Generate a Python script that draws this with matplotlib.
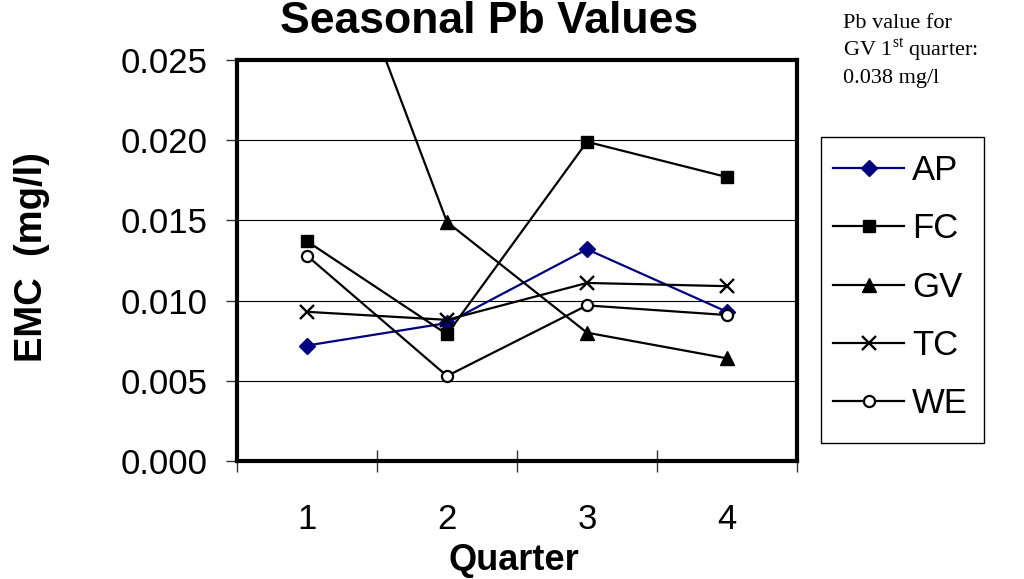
import matplotlib
matplotlib.use("Agg")
import matplotlib.pyplot as plt
from matplotlib.patches import Rectangle

plt.rcParams['font.family'] = ['Liberation Sans', 'DejaVu Sans']
plt.rcParams['mathtext.fontset'] = 'custom'
plt.rcParams['mathtext.rm'] = 'Liberation Serif'

quarters = [1, 2, 3, 4]
quarter_labels = ['1', '2', '3', '4']
ap = [0.0072, 0.0086, 0.0132, 0.0093]
fc = [0.0137, 0.0079, 0.0199, 0.0177]
gv = [0.038, 0.0149, 0.0080, 0.0064]
tc = [0.0093, 0.0088, 0.0111, 0.0109]
we = [0.0128, 0.0053, 0.0097, 0.0091]
y_ticks = [0.000, 0.005, 0.010, 0.015, 0.020, 0.025]

W, H = 1024, 579
fig = plt.figure(figsize=(W / 100, H / 100), dpi=100)

def fx(px):
    return px / W

def fy(py):
    return 1 - py / H

ax = fig.add_axes([fx(237), fy(461), fx(797) - fx(237), fy(60) - fy(461)])

series = [
    ('AP', ap, dict(color='#000080', marker='D', markersize=8, mfc='#000080', mec='#000080')),
    ('FC', fc, dict(color='black', marker='s', markersize=8.5, mfc='black', mec='black')),
    ('GV', gv, dict(color='black', marker='^', markersize=9.5, mfc='black', mec='black')),
    ('TC', tc, dict(color='black', marker='x', markersize=9.5, mew=1.7)),
    ('WE', we, dict(color='black', marker='o', markersize=8, mfc='white', mec='black', mew=1.6)),
]
for name, vals, style in series:
    ax.plot(quarters, vals, label=name, lw=1.6, zorder=3, **style)

ax.set_xlim(0.5, 4.5)
ax.set_ylim(0, 0.025)
ax.set_yticks(y_ticks)
ax.set_yticklabels([f'{v:.3f}' for v in y_ticks], fontsize=25)
ax.yaxis.grid(True, color='black', lw=0.8)
ax.set_axisbelow(True)

# category boundaries carry the tick marks, labels sit at the centres
ax.set_xticks([0.5, 1.5, 2.5, 3.5, 4.5])
ax.set_xticklabels([])
ax.set_xticks(quarters, minor=True)
ax.set_xticklabels(quarter_labels, minor=True, fontsize=25)
ax.tick_params(axis='x', which='major', direction='inout', length=16, width=1, color='#333333')
ax.tick_params(axis='x', which='minor', length=0, pad=30)
ax.tick_params(axis='y', which='major', direction='out', length=8, width=1, color='#333333', pad=13)

for sp in ax.spines.values():
    sp.set_linewidth(3)
    sp.set_color('black')
    sp.set_zorder(5)

# legend entries without their own frame; the box is drawn separately
leg = ax.legend(loc='upper left', bbox_to_anchor=(fx(833), fy(154)),
                bbox_transform=fig.transFigure, fontsize=25, frameon=False,
                handlelength=2.05, handletextpad=0.23, labelspacing=0.73,
                borderpad=0, borderaxespad=0)
fig.patches.append(Rectangle((fx(821), fy(443)), fx(984) - fx(821), fy(137) - fy(443),
                             transform=fig.transFigure, fill=False,
                             edgecolor='black', lw=1.0))

fig.text(fx(489.5), fy(33), 'Seasonal Pb Values', fontsize=32, fontweight='bold',
         ha='center', va='baseline')
fig.text(fx(32), fy(257), 'EMC  (mg/l)', fontsize=27.5, fontweight='bold',
         rotation=90, ha='center', va='center')
fig.text(fx(514), fy(560), 'Quarter', fontsize=26, fontweight='bold',
         ha='center', va='center')

note_lines = ['Pb value for', r'GV 1$^{\mathrm{st}}$ quarter:', '0.038 mg/l']
for i, line in enumerate(note_lines):
    fig.text(fx(843), fy(28 + 27.5 * i), line, fontsize=16,
             family=['Liberation Serif', 'DejaVu Serif'], ha='left', va='baseline')

fig.savefig('out.png', dpi=100)
